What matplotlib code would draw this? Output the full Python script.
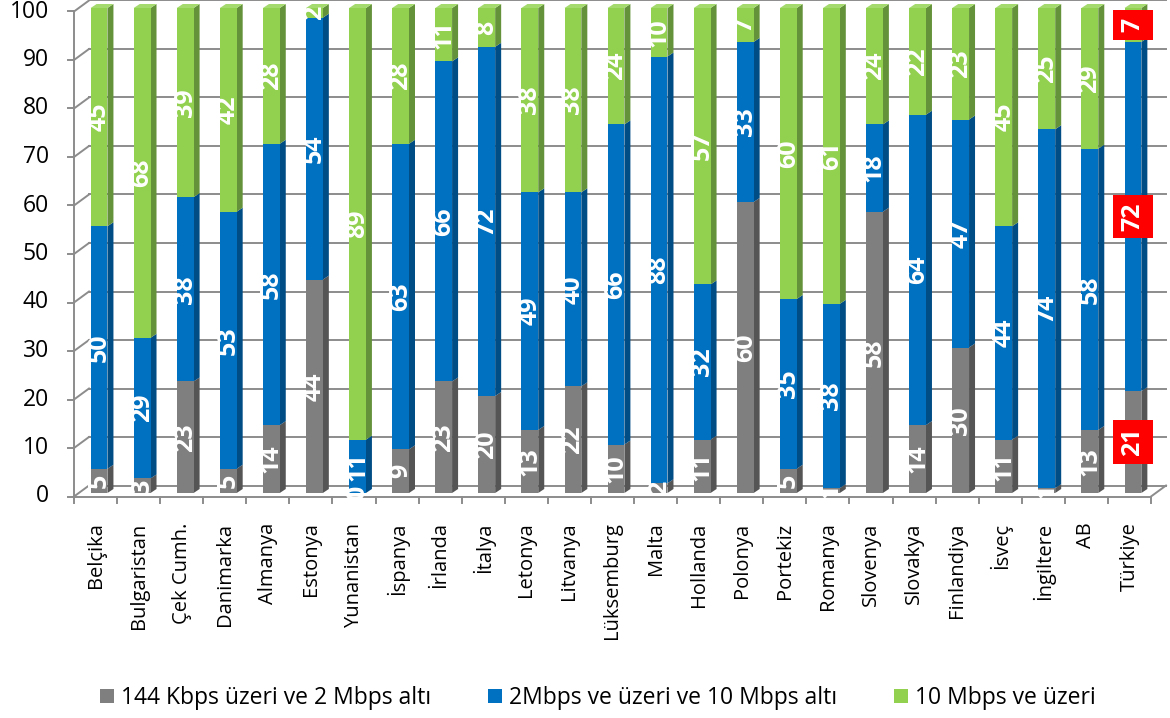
import matplotlib
matplotlib.use("Agg")
import matplotlib.pyplot as plt
import matplotlib.transforms as mtransforms
from matplotlib.patches import Polygon, Patch
import numpy as np

plt.rcParams['font.family'] = ['Open Sans', 'DejaVu Sans']

countries = ['Belçika', 'Bulgaristan', 'Çek Cumh.', 'Danimarka', 'Almanya', 'Estonya',
             'Yunanistan', 'İspanya', 'İrlanda', 'İtalya', 'Letonya', 'Litvanya',
             'Lüksemburg', 'Malta', 'Hollanda', 'Polonya', 'Portekiz', 'Romanya',
             'Slovenya', 'Slovakya', 'Finlandiya', 'İsveç', 'İngiltere', 'AB', 'Türkiye']
low = [5, 3, 23, 5, 14, 44, 0, 9, 23, 20, 13, 22, 10, 2, 11, 60, 5, 1, 58, 14, 30, 11, 1, 13, 21]
mid = [50, 29, 38, 53, 58, 54, 11, 63, 66, 72, 49, 40, 66, 88, 32, 33, 35, 38, 18, 64, 47, 44, 74, 58, 72]
high = [45, 68, 39, 42, 28, 2, 89, 28, 11, 8, 38, 38, 24, 10, 57, 7, 60, 61, 24, 22, 23, 45, 25, 29, 7]
series_names = ['144 Kbps üzeri ve 2 Mbps altı', '2Mbps ve üzeri ve 10 Mbps altı', '10 Mbps ve üzeri']
yticks = list(range(0, 101, 10))

front_cols = ['#7f7f7f', '#0070c0', '#92d050']
side_cols = ['#555555', '#004c85', '#64923a']
top_col = '#a4da6e'
grid_col = '#8c8c8c'

W, H = 1170, 718
fig = plt.figure(figsize=(W / 100, H / 100), dpi=100)
ax = fig.add_axes([77.5 / W, 225 / H, 1077 / W, 485 / H])
ax.set_xlim(-0.5, len(countries) - 0.5)
ax.set_ylim(0, 100)
ax.set_axis_off()

# pixels per data unit
ppx = 1077 / len(countries)
ppy = 485 / 100


def shift(dx, dy):
    return mtransforms.offset_copy(ax.transData, fig=fig, x=dx, y=dy, units='dots')


front = shift(-3.5, -3.5)
back = shift(11.5, 7.5)
ddx, ddy = 15 / ppx, 11 / ppy
x0, x1 = -0.5, len(countries) - 0.5

# back wall grid + left wall
for v in yticks:
    ax.plot([x0, x1], [v, v], transform=back, color=grid_col, lw=1.4, clip_on=False, zorder=1)
    ax.plot([x0, x0 + ddx], [v, v + ddy], transform=front, color=grid_col, lw=1.4, clip_on=False, zorder=1)
    ax.plot([x0 - 6 / ppx, x0], [v, v], transform=front, color=grid_col, lw=1.4, clip_on=False, zorder=1)
    ax.text(x0, v, str(v), transform=shift(-3.5 - 25, -3.5), ha='right', va='center', fontsize=16.5)

# floor + axes lines
ax.plot([x0, x1], [0, 0], transform=front, color=grid_col, lw=1.4, clip_on=False, zorder=1)
ax.plot([x1, x1 + ddx], [0, ddy], transform=front, color=grid_col, lw=1.4, clip_on=False, zorder=1)
ax.plot([x0, x0], [0, 100], transform=front, color=grid_col, lw=1.4, clip_on=False, zorder=1)
for k in range(len(countries) + 1):
    ax.plot([k - 0.5, k - 0.5], [0, -6 / ppy], transform=front, color=grid_col, lw=1.4, clip_on=False)

x = np.arange(len(countries))
for i, name in enumerate(countries):
    ax.text(i, 0, name, transform=shift(-3.5, -3.5 - 26), rotation=90, ha='center', va='top', fontsize=14.5)

# bars
w = 0.39
sdx, sdy = 6 / ppx, 4 / ppy
bottom = np.zeros(len(countries))
containers = []
for vals, fc, sc in zip([low, mid, high], front_cols, side_cols):
    vals = np.array(vals, dtype=float)
    cont = ax.bar(x, vals, w, bottom=bottom, color=fc, zorder=3)
    containers.append(cont)
    for xi, b, v in zip(x, bottom, vals):
        xr = xi + w / 2
        ax.add_patch(Polygon([(xr, b), (xr + sdx, b + sdy), (xr + sdx, b + v + sdy), (xr, b + v)],
                             closed=True, fc=sc, ec='none', zorder=2.9, clip_on=False))
    bottom = bottom + vals

for xi, t in zip(x, bottom):
    xl, xr = xi - w / 2, xi + w / 2
    ax.add_patch(Polygon([(xl, t), (xl + sdx, t + sdy), (xr + sdx, t + sdy), (xr, t)],
                         closed=True, fc=top_col, ec='none', zorder=3, clip_on=False))

for cont in containers:
    labels = ax.bar_label(cont, label_type='center', rotation=90, color='white',
                          fontsize=18, fontweight='bold', zorder=5)
    labels[-1].set_bbox(dict(boxstyle='square,pad=0.3', fc='#ff0000', ec='none'))

handles = [Patch(fc=c, ec='none') for c in front_cols]
fig.legend(handles, series_names, loc='center', bbox_to_anchor=(0.511, 0.028), ncol=3,
           frameon=False, fontsize=16.5, handlelength=0.6, handleheight=0.6,
           handletextpad=0.3, columnspacing=2.5)

fig.savefig('out.png', dpi=100)
